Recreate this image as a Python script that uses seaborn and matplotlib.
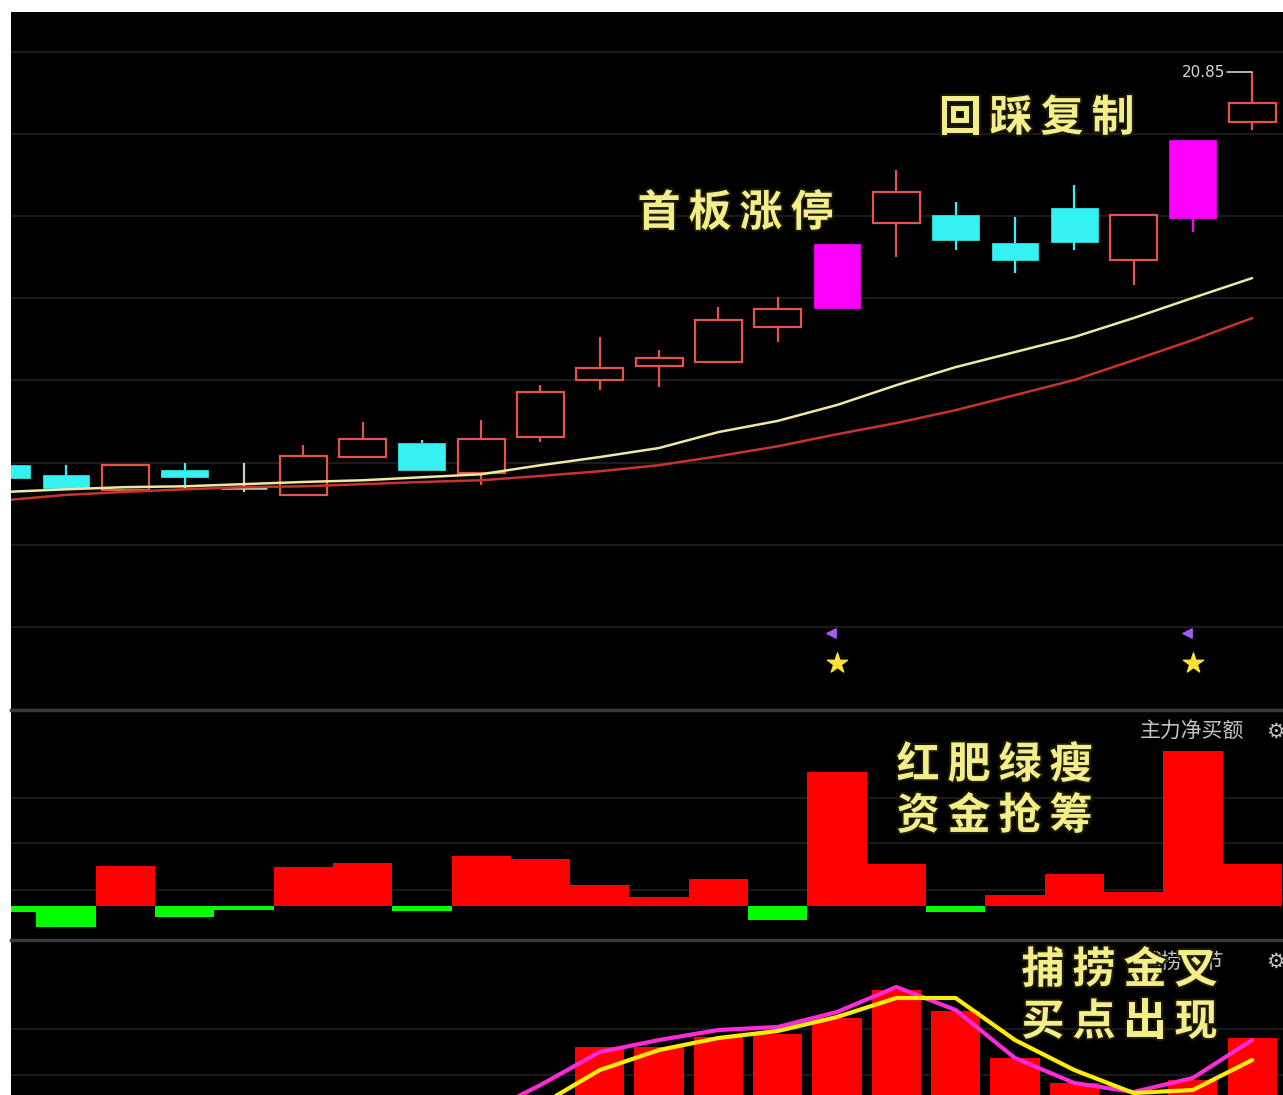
import numpy as np
import pandas as pd
import matplotlib
matplotlib.use("Agg")
import matplotlib.pyplot as plt
import matplotlib.patheffects as pe
import seaborn as sns

sns.set_theme(style="dark", rc={"axes.facecolor": "black", "figure.facecolor": "white",
                                "grid.color": "#1b1b1b", "grid.linewidth": 1.6})
plt.rcParams["font.family"] = ["Noto Sans CJK SC", "DejaVu Sans"]

W, H = 1283, 1095

#%% data

days = list(range(22))

opens  = [11.71, 11.48, 11.13, 11.60, 11.18, 11.02, 11.90, 12.22, 11.53, 12.36, 13.69,
          14.01, 14.11, 14.92, 15.36, 17.34, 17.52, 16.87, 17.69, 16.48, 17.46, 19.69]
highs  = [11.76, 11.71, 11.71, 11.76, 11.76, 12.18, 12.71, 12.29, 12.76, 13.57, 14.69,
          14.39, 15.39, 15.62, 16.85, 18.57, 17.83, 17.48, 18.22, 17.52, 19.27, 20.85]
lows   = [11.38, 11.13, 11.13, 11.18, 11.08, 11.02, 11.90, 11.60, 11.25, 12.25, 13.46,
          13.52, 14.11, 14.57, 15.36, 16.55, 16.71, 16.18, 16.71, 15.90, 17.13, 19.50]
closes = [11.41, 11.18, 11.71, 11.43, 11.18, 11.92, 12.32, 11.60, 12.32, 13.41, 13.97,
          14.20, 15.08, 15.34, 16.85, 18.06, 16.94, 16.48, 16.90, 17.52, 19.27, 20.13]

ma_fast = [11.09, 11.15, 11.20, 11.22, 11.27, 11.32, 11.36, 11.43, 11.50, 11.71, 11.90,
           12.11, 12.48, 12.74, 13.11, 13.57, 13.99, 14.34, 14.69, 15.13, 15.60, 16.06]
ma_slow = [10.90, 11.02, 11.09, 11.15, 11.20, 11.22, 11.27, 11.32, 11.36, 11.46, 11.57,
           11.71, 11.92, 12.15, 12.43, 12.69, 12.99, 13.34, 13.69, 14.15, 14.62, 15.13]

# 主力净买额
net_buy = [-0.6, -2.1, 3.9, -1.1, -0.4, 3.8, 4.2, -0.5, 4.9, 4.6, 2.1,
           0.9, 2.6, -1.4, 13.3, 4.1, -0.6, 1.1, 3.1, 1.4, 15.3, 4.1]

# 捕捞季节
bl_bar = [10, 8, 12, 9, 7, 11, 14, 12, 16, 20, 51.5,
          51.5, 56.5, 58, 66, 80, 69.5, 46, 33.5, 25, 35, 56]
bl_k = [15, 13, 14, 12, 11, 12, 14, 13, 17.5, 32.5, 49,
        55, 60, 61.5, 69, 81.5, 70, 46, 33.5, 29, 36, 55]
bl_d = [12, 12, 11, 12, 11, 10, 11, 11, 10, 22.5, 40,
        50, 56, 59.5, 66.5, 76, 76, 55, 40, 28.5, 30, 45]

#%% figure and panels

fig = plt.figure(figsize=(W / 100, H / 100), dpi=100)
left = 11 / W
ax1 = fig.add_axes([left, 1 - 710 / H, 1 - left, 698 / H])
ax2 = fig.add_axes([left, 1 - 940 / H, 1 - left, 230 / H])
ax3 = fig.add_axes([left, 0, 1 - left, 155 / H])

xlim = (0.0725, 21.52)

#%% candles

prev = [None] + closes[:-1]
limit_up = [p is not None and c >= p * 1.095 for p, c in zip(prev, closes)]

for i in days:
    o, h, l, c = opens[i], highs[i], lows[i], closes[i]
    top, bot = max(o, c), min(o, c)
    if limit_up[i]:
        col, hollow = "#ff00ff", False
    elif c > o:
        col, hollow = "#e4544a", True
    elif c < o:
        col, hollow = "#35f2f2", False
    else:
        col, hollow = "#b8d8c0", False
    ax1.vlines(i, top, h, color=col, lw=1.6, zorder=2)
    ax1.vlines(i, l, bot, color=col, lw=1.6, zorder=2)
    if top == bot:
        ax1.hlines(o, i - 0.39, i + 0.39, color=col, lw=1.8, zorder=2)
    elif hollow:
        ax1.bar(i, top - bot, bottom=bot, width=0.79, facecolor="black",
                edgecolor=col, lw=1.6, zorder=2)
    else:
        ax1.bar(i, top - bot, bottom=bot, width=0.79, color=col,
                edgecolor=col, lw=0.5, zorder=2)

sns.lineplot(x=days, y=ma_slow, color="#c8322f", lw=1.8, ax=ax1, zorder=3)
sns.lineplot(x=days, y=ma_fast, color="#eee9a0", lw=1.8, ax=ax1, zorder=3)

sig = [i for i in days if limit_up[i]]
ax1.scatter(sig, [7.11] * len(sig), marker="*", s=230, color="#ffe033", zorder=4)
ax1.scatter([i - 0.1 for i in sig], [7.81] * len(sig), marker="<", s=45,
            color="#a45cf0", zorder=4)

hi = max(highs)
ihi = highs.index(hi)
ax1.plot([ihi - 0.42, ihi], [hi, hi], color="#d0d0d0", lw=1.2)
ax1.text(ihi - 0.45, hi, f"{hi:.2f}", color="#d8d8d8", fontsize=11,
         ha="right", va="center", family="DejaVu Sans")

ax1.set_ylim(6.02, 22.245)
ax1.set_yticks([7.95, 9.86, 11.77, 13.68, 15.59, 17.50, 19.41, 21.32])

#%% 主力净买额

nb = pd.DataFrame({"day": days, "val": net_buy})
nb["sign"] = np.where(nb["val"] >= 0, "pos", "neg")
sns.barplot(data=nb, x="day", y="val", hue="sign", palette={"pos": "#ff0000", "neg": "#00ff00"},
            width=1.0, dodge=False, saturation=1, legend=False, linewidth=0, ax=ax2)
ax2.set_ylim(-3.4, 19.4)
ax2.set_yticks([1.6, 6.2, 10.7])

#%% 捕捞季节

sns.barplot(x=days, y=bl_bar, color="#ff0000", width=0.83, saturation=1,
            linewidth=0, ax=ax3)
sns.lineplot(x=days, y=bl_k, color="#ff2ad8", lw=3, ax=ax3)
sns.lineplot(x=days, y=bl_d, color="#ffee00", lw=3, ax=ax3)
ax3.set_ylim(27.5, 105)
ax3.set_yticks([37.5, 60.5])

for ax in (ax1, ax2, ax3):
    ax.set_xlim(*xlim)
    ax.set_xticks([])
    ax.set_xlabel("")
    ax.set_ylabel("")
    ax.tick_params(left=False, labelleft=False, bottom=False, labelbottom=False)
    ax.grid(True, axis="y")
    ax.set_axisbelow(True)
    for s in ax.spines.values():
        s.set_visible(False)
for ax in (ax2, ax3):
    ax.spines["top"].set_visible(True)
    ax.spines["top"].set_color("#3a3a3a")
    ax.spines["top"].set_linewidth(2.5)

#%% texts

def fx(x, y):
    return x / W, 1 - y / H

grey = dict(color="#c4c4c4", fontsize=15, va="center", ha="left")
fig.text(*fx(1140, 732), "主力净买额", **grey)
fig.text(*fx(1266, 732), "⚙", **grey)
fig.text(*fx(1140, 962), "捕捞季节", **grey)
fig.text(*fx(1266, 962), "⚙", **grey)

def callout(word, x0, y):
    for k, ch in enumerate(word):
        t = fig.text(*fx(x0 + k * 51, y), ch, color="#f4ee8a", fontsize=31,
                     fontweight="bold", ha="center", va="center", zorder=5)
        t.set_path_effects([pe.withStroke(linewidth=3, foreground="#1a1a00")])

callout("首板涨停", 659, 213)
callout("回踩复制", 960, 118)
callout("红肥绿瘦", 918, 765)
callout("资金抢筹", 918, 816)
callout("捕捞金叉", 1043, 970)
callout("买点出现", 1043, 1022)

fig.savefig("out.png", dpi=100, facecolor="white")
